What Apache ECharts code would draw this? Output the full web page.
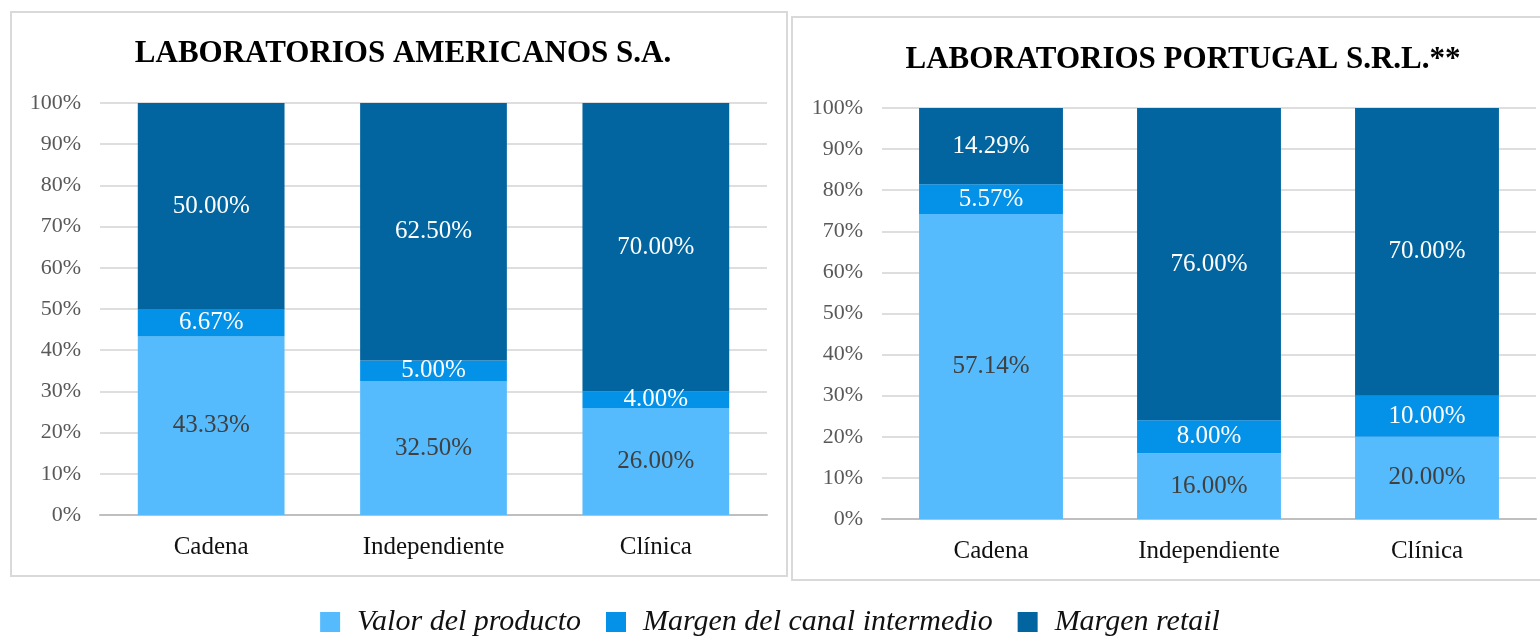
<!DOCTYPE html>
<html>
<head>
<meta charset="utf-8">
<script src="https://cdn.jsdelivr.net/npm/echarts@6/dist/echarts.min.js"></script>
<style>
  html, body { margin: 0; padding: 0; background: #fff; }
  #chart { width: 1540px; height: 638px; }
</style>
</head>
<body>
<div id="chart"></div>
<script>
const categories = ['Cadena', 'Independiente', 'Clínica'];
const seriesNames = ['Valor del producto', 'Margen del canal intermedio', 'Margen retail'];
const yTicks = [0, 10, 20, 30, 40, 50, 60, 70, 80, 90, 100];

// Laboratorios Americanos S.A.
const americanosValor = [43.33, 32.50, 26.00];
const americanosCanal = [6.67, 5.00, 4.00];
const americanosRetail = [50.00, 62.50, 70.00];

// Laboratorios Portugal S.R.L.
const portugalValor = [57.14, 16.00, 20.00];
const portugalCanal = [5.57, 8.00, 10.00];
const portugalRetail = [14.29, 76.00, 70.00];

const colors = ['#55bbfd', '#0491e8', '#02659f'];
const labelColors = ['#404040', '#ffffff', '#ffffff'];
const serif = '"Liberation Serif", "DejaVu Serif", serif';

// percent stacked: each bar is scaled to 100%, labels keep the raw values
function toPercent(groups) {
  const totals = categories.map((c, i) => groups.reduce((s, g) => s + g[i], 0));
  return groups.map(g => g.map((v, i) => ({ value: v / totals[i] * 100, raw: v })));
}

const americanos = toPercent([americanosValor, americanosCanal, americanosRetail]);
const portugal = toPercent([portugalValor, portugalCanal, portugalRetail]);

function makeSeries(groups, idx, stack) {
  return groups.map((data, k) => ({
    name: seriesNames[k],
    type: 'bar',
    stack: stack,
    xAxisIndex: idx,
    yAxisIndex: idx,
    barWidth: '66%',
    itemStyle: { color: colors[k] },
    label: {
      show: true,
      position: 'inside',
      color: labelColors[k],
      fontFamily: serif,
      fontSize: 25,
      formatter: p => p.data.raw.toFixed(2) + '%'
    },
    data: data
  }));
}

function xAxis(idx) {
  return {
    type: 'category',
    gridIndex: idx,
    data: categories,
    axisTick: { show: false },
    axisLine: { lineStyle: { color: '#bfbfbf', width: 2 } },
    axisLabel: { color: '#111', fontFamily: serif, fontSize: 25, margin: 20 }
  };
}

function yAxis(idx) {
  return {
    type: 'value',
    gridIndex: idx,
    min: yTicks[0],
    max: yTicks[yTicks.length - 1],
    interval: yTicks[1] - yTicks[0],
    axisLine: { show: false },
    axisTick: { show: false },
    splitLine: { lineStyle: { color: '#dedede', width: 2 } },
    axisLabel: { color: '#595959', fontFamily: serif, fontSize: 22, margin: 19, formatter: '{value}%' }
  };
}

const chart = echarts.init(document.getElementById('chart'));
chart.setOption({
  animation: false,
  title: [
    {
      text: 'LABORATORIOS AMERICANOS S.A.',
      left: 398, top: 33, textAlign: 'center',
      textStyle: { fontFamily: serif, fontWeight: 'bold', fontSize: 31, color: '#000' }
    },
    {
      text: 'LABORATORIOS PORTUGAL S.R.L.**',
      left: 1178, top: 39, textAlign: 'center',
      textStyle: { fontFamily: serif, fontWeight: 'bold', fontSize: 31, color: '#000' }
    }
  ],
  legend: {
    top: 602,
    left: 'center',
    itemWidth: 20,
    itemHeight: 20,
    itemGap: 25,
    icon: 'rect',
    data: seriesNames,
    textStyle: { fontFamily: serif, fontStyle: 'italic', fontSize: 30, color: '#111', padding: [0, 0, 0, 12] }
  },
  graphic: [
    { type: 'rect', shape: { x: 11, y: 12, width: 776, height: 564 }, style: { fill: 'none', stroke: '#d9d9d9', lineWidth: 2 }, z: -1 },
    { type: 'rect', shape: { x: 792, y: 17, width: 760, height: 563 }, style: { fill: 'none', stroke: '#d9d9d9', lineWidth: 2 }, z: -1 }
  ],
  grid: [
    { left: 100, right: 773, top: 103, bottom: 123 },
    { left: 882, right: 4, top: 108, bottom: 119 }
  ],
  xAxis: [xAxis(0), xAxis(1)],
  yAxis: [yAxis(0), yAxis(1)],
  series: makeSeries(americanos, 0, 'a').concat(makeSeries(portugal, 1, 'p'))
});
</script>
</body>
</html>
